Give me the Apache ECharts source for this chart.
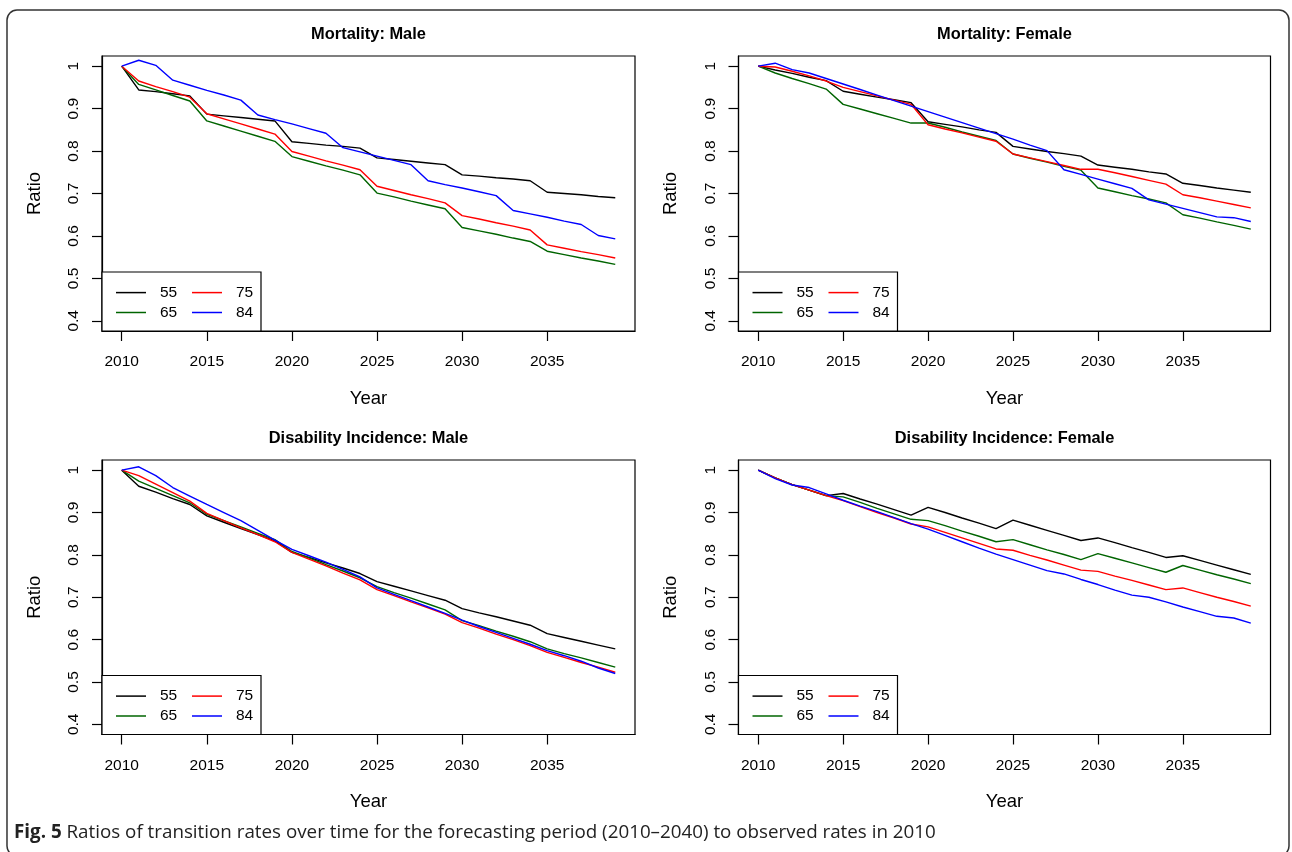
<!DOCTYPE html>
<html>
<head>
<meta charset="utf-8">
<script src="https://cdn.jsdelivr.net/npm/echarts@6/dist/echarts.min.js"></script>
<style>
  html, body { margin: 0; padding: 0; background: #fff; }
  #chart { width: 1292px; height: 852px; }
</style>
</head>
<body>
<div id="chart"></div>
<script>
const years = [2010, 2011, 2012, 2013, 2014, 2015, 2016, 2017, 2018, 2019,
  2020, 2021, 2022, 2023, 2024, 2025, 2026, 2027, 2028, 2029,
  2030, 2031, 2032, 2033, 2034, 2035, 2036, 2037, 2038, 2039];
const ages = ['55', '65', '75', '84'];
const xTicks = [2010, 2015, 2020, 2025, 2030, 2035];
const yTicks = [0.4, 0.5, 0.6, 0.7, 0.8, 0.9, 1];

// Mortality: Male
const mortMale55 = [1.000, 0.944, 0.940, 0.935, 0.930, 0.887, 0.883, 0.879, 0.875, 0.871, 0.822, 0.818, 0.814, 0.811, 0.807, 0.784, 0.780, 0.776, 0.772, 0.768, 0.744, 0.741, 0.737, 0.734, 0.730, 0.703, 0.700, 0.697, 0.693, 0.690];
const mortMale65 = [1.000, 0.957, 0.944, 0.931, 0.918, 0.871, 0.859, 0.847, 0.835, 0.823, 0.787, 0.776, 0.765, 0.755, 0.744, 0.701, 0.692, 0.682, 0.673, 0.664, 0.620, 0.612, 0.604, 0.595, 0.587, 0.564, 0.556, 0.548, 0.541, 0.533];
const mortMale75 = [1.000, 0.965, 0.952, 0.940, 0.927, 0.888, 0.876, 0.864, 0.852, 0.840, 0.799, 0.788, 0.777, 0.767, 0.756, 0.717, 0.707, 0.697, 0.688, 0.678, 0.648, 0.640, 0.631, 0.623, 0.614, 0.579, 0.571, 0.563, 0.556, 0.548];
const mortMale84 = [1.000, 1.014, 1.002, 0.967, 0.955, 0.943, 0.932, 0.920, 0.885, 0.874, 0.864, 0.853, 0.842, 0.808, 0.798, 0.788, 0.778, 0.768, 0.730, 0.721, 0.713, 0.704, 0.695, 0.660, 0.652, 0.644, 0.635, 0.627, 0.601, 0.593];

// Mortality: Female
const mortFem55 = [1.000, 0.991, 0.983, 0.974, 0.966, 0.941, 0.934, 0.927, 0.921, 0.914, 0.869, 0.863, 0.857, 0.850, 0.844, 0.811, 0.805, 0.799, 0.794, 0.788, 0.767, 0.762, 0.757, 0.751, 0.746, 0.724, 0.719, 0.713, 0.708, 0.703];
const mortFem65 = [1.000, 0.984, 0.971, 0.959, 0.946, 0.910, 0.899, 0.888, 0.877, 0.866, 0.866, 0.856, 0.845, 0.835, 0.825, 0.793, 0.783, 0.774, 0.764, 0.755, 0.713, 0.704, 0.695, 0.687, 0.678, 0.650, 0.642, 0.633, 0.625, 0.616];
const mortFem75 = [1.000, 0.998, 0.988, 0.977, 0.965, 0.950, 0.940, 0.930, 0.920, 0.910, 0.862, 0.852, 0.843, 0.833, 0.823, 0.793, 0.784, 0.775, 0.766, 0.757, 0.757, 0.749, 0.740, 0.731, 0.722, 0.697, 0.690, 0.682, 0.674, 0.666];
const mortFem84 = [1.000, 1.007, 0.992, 0.984, 0.971, 0.958, 0.945, 0.932, 0.919, 0.906, 0.893, 0.880, 0.867, 0.854, 0.841, 0.828, 0.814, 0.801, 0.756, 0.745, 0.734, 0.723, 0.712, 0.685, 0.675, 0.665, 0.655, 0.645, 0.643, 0.634];

// Disability Incidence: Male
const disMale55 = [1.000, 0.962, 0.948, 0.933, 0.919, 0.892, 0.877, 0.862, 0.848, 0.833, 0.806, 0.794, 0.781, 0.769, 0.756, 0.737, 0.726, 0.715, 0.704, 0.693, 0.673, 0.663, 0.654, 0.644, 0.634, 0.614, 0.605, 0.596, 0.587, 0.578];
const disMale65 = [1.000, 0.974, 0.957, 0.940, 0.923, 0.896, 0.881, 0.866, 0.851, 0.836, 0.808, 0.793, 0.777, 0.762, 0.746, 0.725, 0.711, 0.698, 0.684, 0.670, 0.645, 0.633, 0.620, 0.608, 0.595, 0.578, 0.567, 0.557, 0.546, 0.535];
const disMale75 = [1.000, 0.987, 0.967, 0.947, 0.927, 0.898, 0.881, 0.864, 0.848, 0.831, 0.806, 0.790, 0.774, 0.757, 0.741, 0.718, 0.704, 0.689, 0.675, 0.660, 0.640, 0.627, 0.613, 0.600, 0.586, 0.570, 0.558, 0.546, 0.535, 0.523];
const disMale84 = [1.000, 1.008, 0.987, 0.959, 0.939, 0.919, 0.900, 0.881, 0.858, 0.835, 0.813, 0.798, 0.783, 0.766, 0.748, 0.722, 0.707, 0.692, 0.677, 0.662, 0.646, 0.631, 0.617, 0.603, 0.589, 0.574, 0.562, 0.549, 0.533, 0.520];

// Disability Incidence: Female
const disFem55 = [1.000, 0.982, 0.966, 0.953, 0.940, 0.945, 0.932, 0.920, 0.907, 0.894, 0.912, 0.900, 0.887, 0.875, 0.862, 0.882, 0.870, 0.858, 0.846, 0.834, 0.840, 0.829, 0.817, 0.806, 0.794, 0.798, 0.787, 0.776, 0.765, 0.754];
const disFem65 = [1.000, 0.982, 0.966, 0.953, 0.940, 0.937, 0.924, 0.910, 0.897, 0.884, 0.881, 0.869, 0.856, 0.844, 0.831, 0.836, 0.824, 0.812, 0.801, 0.789, 0.803, 0.792, 0.781, 0.770, 0.759, 0.775, 0.764, 0.753, 0.743, 0.732];
const disFem75 = [1.000, 0.982, 0.966, 0.953, 0.940, 0.928, 0.914, 0.900, 0.887, 0.873, 0.866, 0.853, 0.840, 0.827, 0.814, 0.811, 0.799, 0.788, 0.776, 0.764, 0.761, 0.750, 0.740, 0.729, 0.718, 0.722, 0.711, 0.700, 0.690, 0.679];
const disFem84 = [1.000, 0.980, 0.965, 0.959, 0.944, 0.929, 0.915, 0.902, 0.888, 0.874, 0.861, 0.846, 0.831, 0.816, 0.802, 0.789, 0.776, 0.763, 0.755, 0.742, 0.730, 0.717, 0.705, 0.700, 0.689, 0.677, 0.666, 0.655, 0.651, 0.639];

const lineColors = ['#000000', '#006400', '#ff0000', '#0000ff'];
const FONT = '"Liberation Sans", Arial, Helvetica, sans-serif';
// thin bar as the legend key (R draws a plain line sample)
const LEGEND_ICON = 'path://M0,0H200V10H0Z';

const panels = [
  {title: 'Mortality: Male', left: 102, top: 56, width: 533, height: 275, series: [mortMale55, mortMale65, mortMale75, mortMale84]},
  {title: 'Mortality: Female', left: 738.5, top: 56, width: 532, height: 275, series: [mortFem55, mortFem65, mortFem75, mortFem84]},
  {title: 'Disability Incidence: Male', left: 102, top: 460, width: 533, height: 274.5, series: [disMale55, disMale65, disMale75, disMale84]},
  {title: 'Disability Incidence: Female', left: 738.5, top: 460, width: 532, height: 274.5, series: [disFem55, disFem65, disFem75, disFem84]}
];

const grid = [], xAxis = [], yAxis = [], series = [], legend = [], graphic = [];

panels.forEach((p, i) => {
  grid.push({left: p.left, top: p.top, width: p.width, height: p.height, show: true, borderColor: '#000', borderWidth: 1.2, backgroundColor: 'transparent'});
  xAxis.push({
    type: 'value', gridIndex: i, min: 2008.84, max: 2040.16,
    name: 'Year', nameLocation: 'middle', nameGap: 58,
    nameTextStyle: {fontFamily: FONT, fontSize: 18.5, color: '#000'},
    axisLine: {show: true, onZero: false, lineStyle: {color: '#000', width: 1.2}},
    axisTick: {show: true, inside: false, length: 10, customValues: xTicks, lineStyle: {color: '#000', width: 1.2}},
    axisLabel: {show: true, customValues: xTicks, margin: 23, fontFamily: FONT, fontSize: 15.5, color: '#000', formatter: v => String(v)},
    splitLine: {show: false}
  });
  yAxis.push({
    type: 'value', gridIndex: i, min: 0.376, max: 1.024,
    name: 'Ratio', nameLocation: 'middle', nameGap: 58,
    nameTextStyle: {fontFamily: FONT, fontSize: 18.5, color: '#000'},
    axisLine: {show: true, onZero: false, lineStyle: {color: '#000', width: 1.2}},
    axisTick: {show: true, inside: false, length: 10, customValues: yTicks, lineStyle: {color: '#000', width: 1.2}},
    axisLabel: {show: true, customValues: yTicks, rotate: 90, margin: 20, fontFamily: FONT, fontSize: 15.5, color: '#000', formatter: v => String(v)},
    splitLine: {show: false}
  });
  p.series.forEach((vals, j) => {
    series.push({
      name: ages[j], type: 'line', xAxisIndex: i, yAxisIndex: i,
      data: years.map((y, k) => [y, vals[k]]),
      symbol: 'none', showSymbol: false, silent: true,
      lineStyle: {color: lineColors[j], width: 1.4},
      itemStyle: {color: lineColors[j]},
      z: 3 + j
    });
  });

  // legend box in the lower left corner, two columns like R's legend(ncol = 2)
  const boxTop = p.top + p.height - 59;
  graphic.push({
    type: 'rect', z: 10,
    shape: {x: p.left, y: boxTop, width: 159, height: 59},
    style: {fill: '#fff', stroke: '#000', lineWidth: 1.2}
  });
  [[ages[0], ages[1]], [ages[2], ages[3]]].forEach((col, c) => {
    legend.push({
      data: col, orient: 'vertical', left: p.left + 14 + c * 76, top: boxTop + 12.6,
      padding: 0, itemGap: 3.9, itemWidth: 30, itemHeight: 19.4, icon: LEGEND_ICON,
      selectedMode: false, z: 20,
      textStyle: {fontFamily: FONT, fontSize: 15.5, color: '#000', padding: [0, 0, 0, 9]}
    });
  });

  graphic.push({
    type: 'text', x: p.left + p.width / 2, y: p.top - 21.5,
    style: {text: p.title, font: 'bold 16.4px ' + FONT, fill: '#000', align: 'center', verticalAlign: 'middle'}
  });
});

graphic.push({
  type: 'rect', shape: {x: 7, y: 10, width: 1282, height: 846, r: 10},
  style: {fill: 'none', stroke: '#333', lineWidth: 1.5}, z: 100
});
graphic.push({
  type: 'text', x: 14, y: 833,
  style: {
    text: '{b|Fig. 5} Ratios of transition rates over time for the forecasting period (2010\u20132040) to observed rates in 2010',
    fontFamily: '"Open Sans", "Noto Sans", sans-serif', fontSize: 18.8, fill: '#222', verticalAlign: 'middle',
    rich: {b: {fontFamily: '"Open Sans", "Noto Sans", sans-serif', fontSize: 18.8, fontWeight: 'bold', fill: '#222'}}
  }
});

const chart = echarts.init(document.getElementById('chart'), null, {renderer: 'canvas'});
chart.setOption({
  animation: false,
  backgroundColor: '#fff',
  grid, xAxis, yAxis, series, legend, graphic
});
</script>
</body>
</html>
